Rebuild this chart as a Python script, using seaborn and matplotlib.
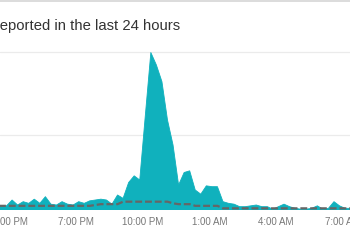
import pandas as pd
import numpy as np
import seaborn as sns
import matplotlib.pyplot as plt
import matplotlib.dates as mdates
from matplotlib.lines import Line2D

# ---- data (15-minute samples) ----
start_time = "2024-01-01 15:22"
reports = [5, 5, 5, 12, 6, 10, 8, 13, 8, 16,
           7, 6, 10, 7, 6, 10, 8, 11, 12, 13,
           12, 7, 18, 14, 33, 41, 36, 113, 189, 174,
           154, 108, 78, 30, 45, 47, 24, 19, 29, 28,
           28, 10, 8, 7, 4, 4, 5, 6, 4, 4,
           1, 4, 7, 4, 2, 1, 1, 2, 5, 1,
           2, 10, 5, 2, 2]
baseline = [5, 5, 5, 5, 5, 5, 5, 5, 5, 5,
            5, 5, 5, 5, 5, 5, 5, 5, 6, 7,
            7, 7, 7, 10, 10, 10, 10, 10, 10, 10,
            10, 10, 8, 7, 7, 7, 5, 5, 5, 5,
            5, 2, 2, 2, 2, 2, 2, 2, 2, 2,
            2, 2, 2, 2, 2, 2, 2, 2, 2, 2,
            2, 2, 2, 2, 2]
tick_times = ["2024-01-01 16:00", "2024-01-01 19:00", "2024-01-01 22:00",
              "2024-01-02 01:00", "2024-01-02 04:00", "2024-01-02 07:00"]
tick_labels = ["4:00 PM", "7:00 PM", "10:00 PM", "1:00 AM", "4:00 AM", "7:00 AM"]
title_text = "Reported in the last 24 hours"
grid_values = [90, 190]

times = pd.date_range(start_time, periods=len(reports), freq="15min")
df = pd.DataFrame({"time": times, "reports": reports, "baseline": baseline})

sns.set_style("white")
plt.rcParams["font.family"] = ["Liberation Sans", "DejaVu Sans"]

teal = "#10b1bd"
fig = plt.figure(figsize=(3.5, 2.5), dpi=100)
ax = fig.add_axes([0, 40 / 250, 1, 170 / 250])

ax.fill_between(df["time"], df["reports"], 0, color=teal, lw=0, zorder=2)
sns.lineplot(data=df, x="time", y="reports", color=teal, lw=0.6, ax=ax, zorder=3)
sns.lineplot(data=df, x="time", y="baseline", color="#666666", lw=1.6,
             linestyle=(0, (3.1, 1.3)), ax=ax, zorder=4)

ax.set_xlim(pd.Timestamp("2024-01-01 15:34:18"), pd.Timestamp("2024-01-02 07:20:17"))
ax.set_ylim(0, 204)
ax.set_xticks(mdates.date2num(pd.to_datetime(tick_times)))
ax.set_xticklabels(tick_labels)
ax.set_yticks(grid_values)
ax.yaxis.grid(True, color="#ebebeb", lw=0.9)
ax.xaxis.grid(False)
ax.set_axisbelow(True)
ax.tick_params(axis="y", length=0, labelleft=False)
ax.tick_params(axis="x", length=0, pad=5, labelsize=7, labelcolor="#777777")
for s in ax.spines.values():
    s.set_visible(False)
ax.set_xlabel("")
ax.set_ylabel("")

fig.text(180 / 350, 1 - 30 / 250, title_text, ha="right", va="baseline",
         fontsize=10.7, color="#333333")
fig.add_artist(Line2D([0, 1], [1 - 0.8 / 250] * 2, color="#dcdcdc", lw=1.4))

fig.savefig("out.png", dpi=100)
